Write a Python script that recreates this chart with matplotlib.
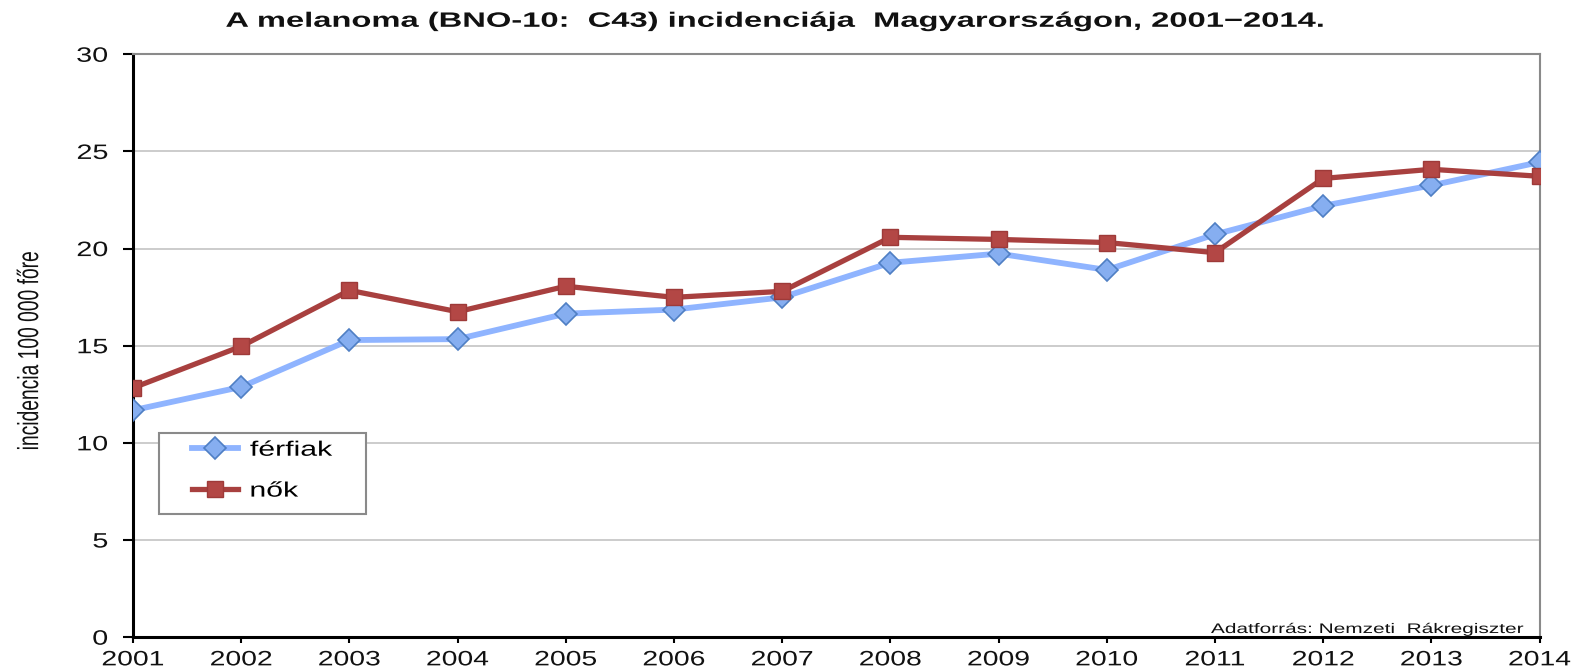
import matplotlib
matplotlib.use("Agg")
import matplotlib.pyplot as plt
from matplotlib.patches import Rectangle
from matplotlib.patheffects import AbstractPathEffect
from matplotlib.transforms import Affine2D

years = [2001, 2002, 2003, 2004, 2005, 2006, 2007, 2008, 2009, 2010, 2011, 2012, 2013, 2014]
ferfiak = [11.68, 12.88, 15.29, 15.34, 16.65, 16.86, 17.49, 19.27, 19.74, 18.90, 20.73, 22.20, 23.25, 24.45]
nok = [12.83, 14.97, 17.85, 16.75, 18.06, 17.49, 17.80, 20.58, 20.47, 20.31, 19.79, 23.61, 24.08, 23.72]
yticks = [0, 5, 10, 15, 20, 25, 30]

TITLE = "A melanoma (BNO-10:  C43) incidenciája  Magyarországon, 2001\u22122014."
YLABEL = "incidencia 100 000 főre"
SOURCE = "Adatforrás: Nemzeti  Rákregiszter"


class Stretch(AbstractPathEffect):
    """Widen/narrow glyphs along the baseline; the source image is stretched."""

    def __init__(self, sx, anchor="center"):
        super().__init__()
        self._sx = sx
        self._anchor = anchor

    def draw_path(self, renderer, gc, tpath, affine, rgbFace=None):
        ext = tpath.get_extents()
        x0 = {"left": ext.x0, "center": 0.5 * (ext.x0 + ext.x1),
              "right": ext.x1}[self._anchor]
        t = Affine2D().translate(-x0, 0).scale(self._sx, 1).translate(x0, 0) + affine
        renderer.draw_path(gc, tpath, t, rgbFace)


plt.rcParams["font.family"] = ["Liberation Sans", "DejaVu Sans"]

fig = plt.figure(figsize=(15.84, 6.70), dpi=100)
fig.patch.set_facecolor("white")
ax = fig.add_axes([0.084, 0.049, 0.888, 0.870])

ax.plot(years, ferfiak, color="#8fb4ff", linewidth=4.2, marker="D", markersize=11,
        markerfacecolor="#86aef0", markeredgecolor="#4f7fc4", markeredgewidth=1.2,
        label="férfiak", zorder=3)
ax.plot(years, nok, color="#a8403f", linewidth=3.8, marker="s", markersize=11,
        markerfacecolor="#b34745", markeredgecolor="#9e3a39", markeredgewidth=1.0,
        label="nők", zorder=4)

ax.set_xlim(years[0], years[-1])
ax.set_ylim(yticks[0], yticks[-1])
ax.set_xticks(years)
ax.set_yticks(yticks)
ax.tick_params(axis="both", direction="out", width=1.5, labelsize=15,
               color="black", labelcolor="#111111")
ax.tick_params(axis="x", length=4.5, pad=5)
ax.tick_params(axis="y", length=7, pad=11)
for t in ax.get_xticklabels():
    t.set_path_effects([Stretch(1.36, "center")])
for t in ax.get_yticklabels():
    t.set_path_effects([Stretch(1.38, "right")])

ax.grid(axis="y", color="#c4c4c4", linewidth=1.2)
ax.set_axisbelow(True)

for side in ("left", "bottom"):
    ax.spines[side].set_color("black")
    ax.spines[side].set_linewidth(2.2)
for side in ("top", "right"):
    ax.spines[side].set_color("#8a8a8a")
    ax.spines[side].set_linewidth(1.5)

# legend: frame drawn separately so the inner padding can differ by side
ax.add_patch(Rectangle((0.0185, 0.211), 0.147, 0.139, transform=ax.transAxes,
                       facecolor="white", edgecolor="#8a8a8a", linewidth=1.5,
                       zorder=5))
leg = ax.legend(loc="upper left", bbox_to_anchor=(0.042, 0.337), fontsize=15,
                frameon=False, handlelength=2.2, borderpad=0, borderaxespad=0,
                labelspacing=1.05, handletextpad=0.58)
leg.set_zorder(6)
for t in leg.get_texts():
    t.set_path_effects([Stretch(1.45, "left")])

ax.text(0.989, 0.014, SOURCE, transform=ax.transAxes, ha="right", va="center",
        fontsize=10, color="#111111", path_effects=[Stretch(1.5, "right")])

fig.text(0.49, 0.960, TITLE, ha="center", va="baseline", fontsize=15,
         fontweight="bold", color="#111111", path_effects=[Stretch(1.57, "center")])
fig.text(0.019, 0.476, YLABEL, rotation=90, ha="center", va="center", fontsize=21,
         color="#111111", path_effects=[Stretch(0.66, "center")])

fig.savefig("out.png", dpi=100, facecolor="white")
